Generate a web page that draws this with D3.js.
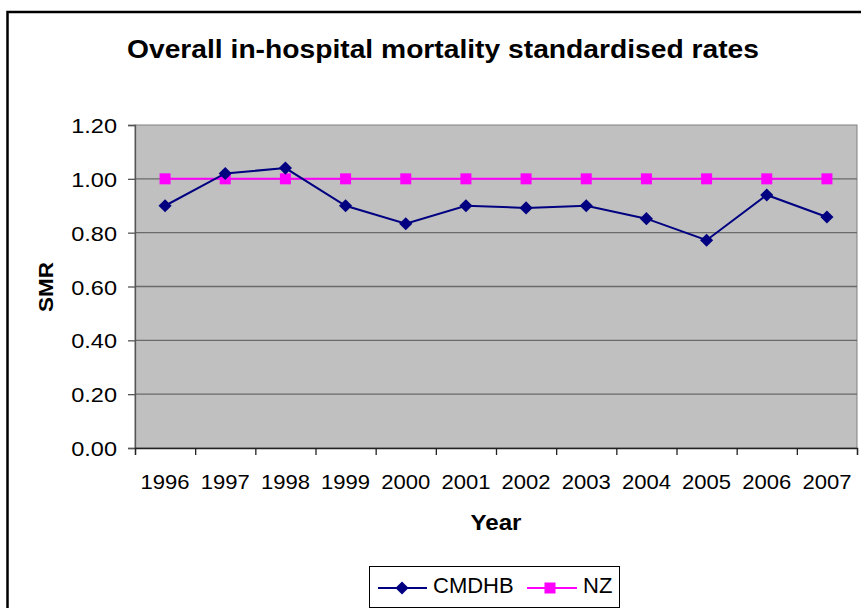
<!DOCTYPE html>
<html>
  <head>
    <meta charset="utf-8">
    <script src="https://d3js.org/d3.v7.min.js"></script>
    <title>Overall in-hospital mortality standardised rates</title>
    <style>
      body { margin: 0; background: #fff; }
      text { font-family: "Liberation Sans", Arial, sans-serif; fill: #000; }
    </style>
  </head>
  <body>
    <svg width="861" height="608" id="chart"></svg>
    <script>
      var years = ["1996", "1997", "1998", "1999", "2000", "2001", "2002", "2003", "2004", "2005", "2006", "2007"];
      var cmdhb = [0.90, 1.02, 1.04, 0.90, 0.833, 0.90, 0.892, 0.90, 0.852, 0.772, 0.94, 0.858];
      var nz = [1.00, 1.00, 1.00, 1.00, 1.00, 1.00, 1.00, 1.00, 1.00, 1.00, 1.00, 1.00];
      var yTicks = [0, 0.2, 0.4, 0.6, 0.8, 1.0, 1.2];

      var svg = d3.select("#chart"),
          plot = { left: 135, right: 857, top: 125, bottom: 448 };

      // stretch text horizontally, the source picture is a bit wide
      function stretch(sel, k) {
        sel.each(function () {
          var w = this.getComputedTextLength();
          d3.select(this).attr("textLength", w * k).attr("lengthAdjust", "spacingAndGlyphs");
        });
      }

      // outer chart frame
      svg.append("rect")
          .attr("x", 7.5).attr("y", 12)
          .attr("width", 900).attr("height", 700)
          .attr("fill", "#fff")
          .attr("stroke", "#000")
          .attr("stroke-width", 2.5);

      var x = d3.scaleBand().domain(years).range([plot.left, plot.right]).padding(0),
          xEdge = d3.scaleLinear().domain([0, years.length]).range([plot.left, plot.right]),
          y = d3.scaleLinear().domain([0, 1.2]).range([plot.bottom, plot.top]);

      // plot area
      svg.append("rect")
          .attr("x", plot.left).attr("y", plot.top)
          .attr("width", plot.right - plot.left).attr("height", plot.bottom - plot.top)
          .attr("fill", "#c0c0c0")
          .attr("stroke", "#808080")
          .attr("stroke-width", 1);

      svg.append("g")
          .selectAll("line")
          .data(yTicks.slice(1, -1))
          .enter().append("line")
          .attr("x1", plot.left).attr("x2", plot.right)
          .attr("y1", function (d) { return y(d); })
          .attr("y2", function (d) { return y(d); })
          .attr("stroke", "#6a6a6a")
          .attr("stroke-width", 1.3);

      // axes
      var gy = svg.append("g")
          .attr("transform", "translate(" + plot.left + ",0)")
          .call(d3.axisLeft(y).tickValues(yTicks).tickFormat(d3.format(".2f")).tickSize(7).tickPadding(11));
      gy.selectAll("line, path").attr("stroke", "#555").attr("stroke-width", 1.3);
      gy.selectAll("text").attr("font-size", 21).attr("dy", "0.36em")
          .style("font-family", "'Liberation Sans', Arial, sans-serif");
      stretch(gy.selectAll("text"), 1.12);

      var gxEdge = svg.append("g")
          .attr("transform", "translate(0," + plot.bottom + ")")
          .call(d3.axisBottom(xEdge).ticks(years.length).tickFormat("").tickSize(7));
      gxEdge.selectAll("line, path").attr("stroke", "#222").attr("stroke-width", 1.3);

      var gx = svg.append("g")
          .attr("transform", "translate(0," + plot.bottom + ")")
          .call(d3.axisBottom(x).tickSize(0));
      gx.select(".domain").remove();
      gx.selectAll("text").attr("font-size", 21).attr("y", 41).attr("dy", 0)
          .style("font-family", "'Liberation Sans', Arial, sans-serif");
      stretch(gx.selectAll("text"), 1.05);

      // series
      var line = d3.line()
          .x(function (d, i) { return x(years[i]) + x.bandwidth() / 2; })
          .y(function (d) { return y(d); });

      svg.append("path")
          .datum(nz)
          .attr("fill", "none")
          .attr("stroke", "#ff00ff")
          .attr("stroke-width", 2)
          .attr("d", line);

      svg.append("g")
          .selectAll("rect")
          .data(nz)
          .enter().append("rect")
          .attr("x", function (d, i) { return x(years[i]) + x.bandwidth() / 2 - 5.5; })
          .attr("y", function (d) { return y(d) - 5.5; })
          .attr("width", 11).attr("height", 11)
          .attr("fill", "#ff00ff");

      svg.append("path")
          .datum(cmdhb)
          .attr("fill", "none")
          .attr("stroke", "#000080")
          .attr("stroke-width", 2)
          .attr("d", line);

      var diamond = d3.symbol().type(d3.symbolDiamond2).size(110);
      svg.append("g")
          .selectAll("path")
          .data(cmdhb)
          .enter().append("path")
          .attr("transform", function (d, i) {
            return "translate(" + (x(years[i]) + x.bandwidth() / 2) + "," + y(d) + ")";
          })
          .attr("d", diamond)
          .attr("fill", "#000080");

      // titles
      svg.append("text")
          .attr("x", 443).attr("y", 58)
          .attr("text-anchor", "middle")
          .attr("font-size", 25)
          .attr("font-weight", "bold")
          .attr("textLength", 632).attr("lengthAdjust", "spacingAndGlyphs")
          .text("Overall in-hospital mortality standardised rates");

      svg.append("text")
          .attr("transform", "translate(53,287) rotate(-90)")
          .attr("text-anchor", "middle")
          .attr("font-size", 21)
          .attr("font-weight", "bold")
          .attr("textLength", 50).attr("lengthAdjust", "spacingAndGlyphs")
          .text("SMR");

      svg.append("text")
          .attr("x", 496).attr("y", 530)
          .attr("text-anchor", "middle")
          .attr("font-size", 22)
          .attr("font-weight", "bold")
          .attr("textLength", 51).attr("lengthAdjust", "spacingAndGlyphs")
          .text("Year");

      // legend
      var legend = svg.append("g");
      legend.append("rect")
          .attr("x", 369.5).attr("y", 566.5)
          .attr("width", 250).attr("height", 41)
          .attr("fill", "#fff")
          .attr("stroke", "#000")
          .attr("stroke-width", 1);

      legend.append("line")
          .attr("x1", 378).attr("x2", 427).attr("y1", 588).attr("y2", 588)
          .attr("stroke", "#000080").attr("stroke-width", 2);
      legend.append("path")
          .attr("transform", "translate(402,588)")
          .attr("d", diamond)
          .attr("fill", "#000080");
      legend.append("text")
          .attr("x", 433).attr("y", 593)
          .attr("font-size", 22)
          .text("CMDHB");

      legend.append("line")
          .attr("x1", 527).attr("x2", 577).attr("y1", 588).attr("y2", 588)
          .attr("stroke", "#ff00ff").attr("stroke-width", 2);
      legend.append("rect")
          .attr("x", 544.5).attr("y", 582.5)
          .attr("width", 11).attr("height", 11)
          .attr("fill", "#ff00ff");
      legend.append("text")
          .attr("x", 583).attr("y", 593)
          .attr("font-size", 22)
          .text("NZ");
    </script>
  </body>
</html>
